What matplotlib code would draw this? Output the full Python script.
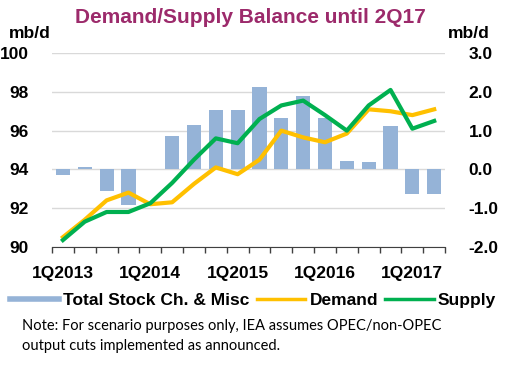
import numpy as np
import matplotlib
matplotlib.use('Agg')
import matplotlib.pyplot as plt
from matplotlib.lines import Line2D

plt.rcParams['font.family'] = ['Liberation Sans', 'DejaVu Sans']

# データ (1Q2013 - 2Q2017)
quarters = ['1Q2013', '2Q2013', '3Q2013', '4Q2013',
            '1Q2014', '2Q2014', '3Q2014', '4Q2014',
            '1Q2015', '2Q2015', '3Q2015', '4Q2015',
            '1Q2016', '2Q2016', '3Q2016', '4Q2016',
            '1Q2017', '2Q2017']
stock_change = [-0.15, 0.05, -0.55, -0.92, 0.0, 0.86, 1.14, 1.54, 1.54, 2.13,
                1.33, 1.90, 1.33, 0.22, 0.20, 1.11, -0.64, -0.64]
demand = [90.5, 91.4, 92.4, 92.8, 92.2, 92.3, 93.25, 94.1, 93.75, 94.5,
          96.0, 95.65, 95.4, 95.85, 97.1, 97.0, 96.8, 97.1]
supply = [90.35, 91.3, 91.8, 91.8, 92.25, 93.3, 94.5, 95.6, 95.35, 96.6,
          97.3, 97.55, 96.8, 96.0, 97.3, 98.1, 96.1, 96.5]
year_labels = ['1Q2013', '1Q2014', '1Q2015', '1Q2016', '1Q2017']

bar_color = '#95B3D7'
demand_color = '#FFC000'
supply_color = '#00B050'
title_color = '#9C2A6B'

x = np.arange(len(quarters))

fig = plt.figure(figsize=(5.2, 3.69), dpi=100)
ax2 = fig.add_axes([0.1, 0.331, 0.756, 0.525])   # 棒グラフ (右軸)
ax = ax2.twinx()                                  # 折れ線 (左軸)

ax2.bar(x, stock_change, width=0.65, color=bar_color, zorder=2)
ax2.set_ylim(-2, 3)
ax2.set_yticks(np.arange(-2, 3.1, 1))
ax2.set_yticklabels([f'{v:.1f}' for v in np.arange(-2, 3.1, 1)])
ax2.grid(axis='y', color='#D9D9D9', linewidth=1, zorder=0)
ax2.set_axisbelow(True)
ax2.yaxis.tick_right()

ax.plot(x, demand, color=demand_color, linewidth=3)
ax.plot(x, supply, color=supply_color, linewidth=3)
ax.set_ylim(90, 100)
ax.set_yticks(np.arange(90, 101, 2))
ax.yaxis.tick_left()

ax2.set_xlim(-0.5, len(quarters) - 0.5)
ax2.set_xticks(np.arange(-0.5, len(quarters), 1))
ax2.set_xticklabels([])
ax2.set_xticks([quarters.index(q) for q in year_labels], minor=True)
ax2.set_xticklabels(year_labels, minor=True)
ax2.tick_params(axis='x', which='major', direction='out', length=4, width=1, color='#404040')
ax2.tick_params(axis='x', which='minor', length=0, pad=14)

for a in (ax, ax2):
    for s in ['top', 'left', 'right']:
        a.spines[s].set_visible(False)
ax.spines['bottom'].set_visible(False)
ax2.spines['bottom'].set_color('#404040')

for lbl in ax2.get_xticklabels(minor=True):
    lbl.set_fontsize(12.5)
    lbl.set_fontweight('bold')
ax.tick_params(axis='y', length=0, pad=17, labelsize=12.5)
ax2.tick_params(axis='y', length=0, pad=17, labelsize=12.5)
for lbl in ax.get_yticklabels() + ax2.get_yticklabels():
    lbl.set_fontweight('bold')

fig.text(0.482, 0.953, 'Demand/Supply Balance until 2Q17', ha='center', va='center',
         fontsize=15, fontweight='bold', color=title_color)
fig.text(0.058, 0.91, 'mb/d', ha='center', va='center', fontsize=12.5, fontweight='bold')
fig.text(0.901, 0.91, 'mb/d', ha='center', va='center', fontsize=12.5, fontweight='bold')

handles = [Line2D([0], [0], color=bar_color, linewidth=4),
           Line2D([0], [0], color=demand_color, linewidth=2.5),
           Line2D([0], [0], color=supply_color, linewidth=2.5)]
labels = ['Total Stock Ch. & Misc', 'Demand', 'Supply']
fig.legend(handles, labels, loc='center', bbox_to_anchor=(0.487, 0.185), ncol=3,
           frameon=False, handlelength=2.8, handletextpad=0.25, columnspacing=0.4,
           borderpad=0, prop={'weight': 'bold', 'size': 12.5})

fig.text(0.042, 0.089, 'Note: For scenario purposes only, IEA assumes OPEC/non-OPEC\n'
         'output cuts implemented as announced.', ha='left', va='center',
         fontsize=10.5, family=['Lato', 'DejaVu Sans'], linespacing=1.5)

fig.savefig('out.png', dpi=100)
